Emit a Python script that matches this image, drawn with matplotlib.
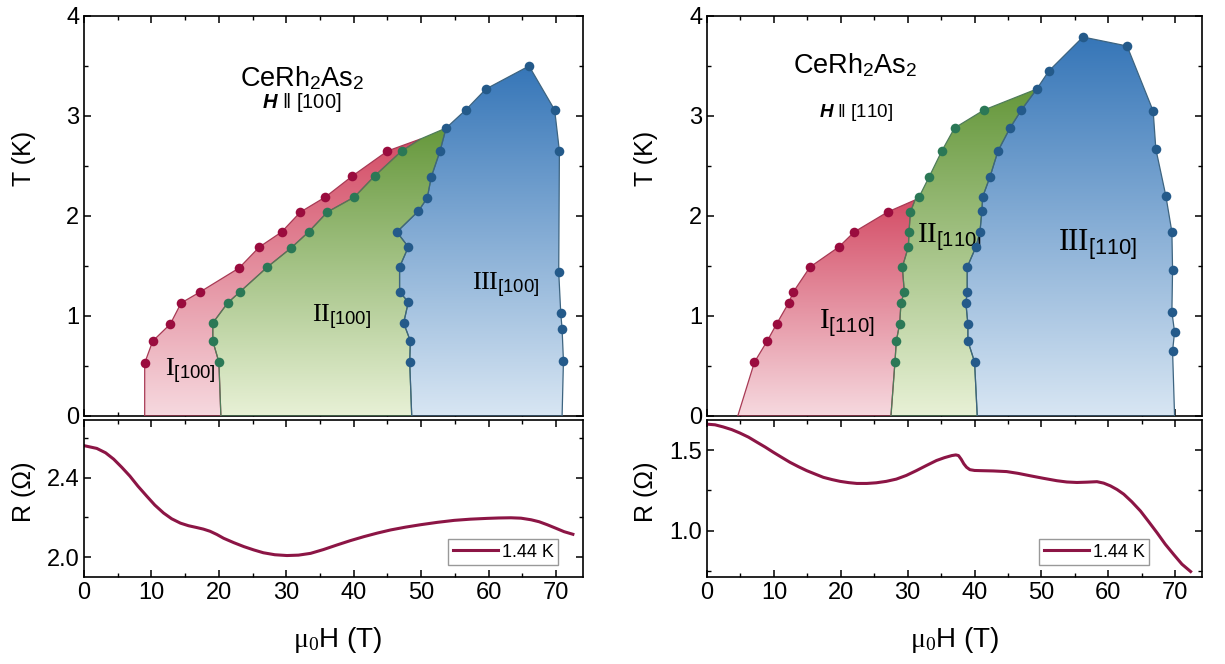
import numpy as np
import matplotlib
matplotlib.use("Agg")
import matplotlib.pyplot as plt
from matplotlib.patches import Polygon
from matplotlib.colors import LinearSegmentedColormap
from matplotlib.ticker import MultipleLocator, FormatStrFormatter

plt.rcParams['font.family'] = ['Liberation Sans', 'DejaVu Sans']
plt.rcParams['mathtext.fontset'] = 'custom'
plt.rcParams['mathtext.rm'] = 'Liberation Serif'
plt.rcParams['mathtext.sf'] = 'Liberation Sans'
plt.rcParams['mathtext.bf'] = 'Liberation Sans:italic:bold'
plt.rcParams['mathtext.it'] = 'Liberation Serif:italic'

# ---------------- Data: H || [100] ----------------
L_red_H = [9.0, 10.2, 12.8, 14.4, 17.2, 23.0, 26.0, 29.3, 32.1, 35.8, 39.8, 45.0]
L_red_T = [0.53, 0.75, 0.92, 1.13, 1.24, 1.48, 1.69, 1.84, 2.04, 2.19, 2.40, 2.65]
L_green_H = [20.0, 19.1, 19.1, 21.3, 23.1, 27.2, 30.7, 33.3, 36.1, 40.1, 43.1, 47.1]
L_green_T = [0.54, 0.75, 0.93, 1.13, 1.24, 1.49, 1.68, 1.84, 2.04, 2.19, 2.40, 2.65]
L_blueL_H = [53.7, 52.8, 51.5, 50.9, 49.6, 46.4, 48.1, 46.8, 46.8, 48.1, 47.4, 48.4, 48.3]
L_blueL_T = [2.88, 2.65, 2.39, 2.18, 2.05, 1.84, 1.69, 1.49, 1.24, 1.14, 0.93, 0.75, 0.54]
L_blueU_H = [56.6, 59.6, 66.0, 69.8, 70.5, 70.4, 70.7, 70.9, 71.1]
L_blueU_T = [3.06, 3.27, 3.50, 3.06, 2.65, 1.44, 1.03, 0.87, 0.55]
L_red_H0, L_green_H0, L_blue_H0, L_end_H0 = 9.0, 20.3, 48.6, 70.9
L_junction = (49.9, 2.77)

# ---------------- Data: H || [110] ----------------
R_red_H = [7.1, 9.0, 10.4, 12.2, 12.9, 15.4, 19.7, 22.0, 27.0]
R_red_T = [0.54, 0.75, 0.92, 1.13, 1.24, 1.49, 1.69, 1.84, 2.04]
R_greenL_H = [28.1, 28.3, 28.8, 29.0, 29.5, 29.2, 30.1, 30.2, 30.4]
R_greenL_T = [0.54, 0.75, 0.92, 1.13, 1.24, 1.49, 1.69, 1.84, 2.04]
R_greenU_H = [31.7, 33.2, 35.1, 37.0, 41.4]
R_greenU_T = [2.19, 2.39, 2.65, 2.88, 3.06]
R_blueL_H = [49.3, 47.0, 45.3, 43.5, 42.3, 41.2, 41.1, 40.8, 40.2, 38.9, 38.9, 38.7, 39.0, 39.0, 40.0]
R_blueL_T = [3.27, 3.06, 2.88, 2.65, 2.39, 2.19, 2.05, 1.84, 1.69, 1.49, 1.24, 1.13, 0.92, 0.75, 0.54]
R_blueU_H = [51.1, 56.2, 62.8, 66.7, 67.1, 68.6, 69.5, 69.6, 69.5, 69.9, 69.6]
R_blueU_T = [3.45, 3.79, 3.70, 3.05, 2.67, 2.20, 1.84, 1.46, 1.04, 0.84, 0.65]
R_red_H0, R_green_H0, R_blue_H0, R_end_H0 = 4.6, 27.5, 40.4, 69.9
R_junction = (31.1, 2.16)

# ---------------- Resistance at 1.44 K ----------------
L_RH = [0, 1.9, 3.2, 4.4, 5.6, 6.8, 8.0, 9.3, 10.5, 11.8, 13.0, 14.3, 15.5, 16.7, 17.7,
        18.7, 19.7, 20.7, 22.2, 23.7, 25.2, 26.6, 28.3, 30.1, 31.8, 33.6, 35.5, 37.5,
        39.5, 41.5, 43.5, 45.5, 47.7, 49.9, 52.4, 54.9, 57.3, 59.8, 61.5, 63.3, 64.8,
        66.3, 67.5, 68.7, 70.0, 71.2, 72.5]
L_R = [2.561, 2.547, 2.525, 2.493, 2.452, 2.408, 2.357, 2.307, 2.262, 2.222, 2.193, 2.171,
       2.158, 2.149, 2.141, 2.130, 2.114, 2.095, 2.073, 2.053, 2.036, 2.022, 2.012, 2.008,
       2.010, 2.019, 2.038, 2.061, 2.083, 2.103, 2.121, 2.137, 2.151, 2.163, 2.175, 2.185,
       2.191, 2.195, 2.197, 2.198, 2.196, 2.188, 2.178, 2.163, 2.145, 2.128, 2.115]
R_RH = [0, 1.2, 2.4, 3.7, 4.9, 6.2, 7.4, 8.7, 9.9, 11.2, 12.4, 13.7, 14.9, 16.2, 17.4,
        18.7, 19.9, 21.2, 22.4, 23.9, 25.3, 26.8, 28.3, 29.8, 31.3, 32.8, 34.3, 35.5,
        36.6, 37.2, 37.6, 38.0, 38.4, 38.8, 39.3, 40.0, 40.8, 42.8, 44.8, 46.5, 48.3,
        50.3, 52.3, 53.8, 55.3, 56.8, 58.3, 59.3, 60.3, 61.3, 62.3, 63.5, 64.8, 66.0,
        67.3, 68.5, 69.8, 71.0, 72.3]
R_R = [1.664, 1.660, 1.647, 1.630, 1.609, 1.583, 1.553, 1.521, 1.489, 1.456, 1.426, 1.398,
       1.374, 1.352, 1.332, 1.318, 1.307, 1.299, 1.294, 1.294, 1.298, 1.307, 1.321, 1.344,
       1.374, 1.406, 1.437, 1.455, 1.468, 1.472, 1.468, 1.445, 1.416, 1.395, 1.380, 1.375,
       1.374, 1.372, 1.368, 1.357, 1.342, 1.326, 1.311, 1.303, 1.300, 1.302, 1.305, 1.296,
       1.279, 1.256, 1.227, 1.180, 1.122, 1.057, 0.985, 0.915, 0.849, 0.790, 0.744]
legend_label = "1.44 K"

# ---------------- Styling ----------------
RED_MK, GREEN_MK, BLUE_MK = '#9a0c3e', '#2b7856', '#245a8a'
RED_EDGE, GREEN_EDGE, BLUE_EDGE = '#a83a55', '#4f7d5a', '#3d6480'
RED_GRAD = ['#f6d9df', '#d44d66']
GREEN_GRAD = ['#e8f1d6', '#66983c']
BLUE_GRAD = ['#d8e6f3', '#3676b8']
LINE_C = '#8c1545'


def region(ax, H, T, colors, edge):
    pts = np.column_stack([H, T])
    poly = Polygon(pts, closed=True, facecolor='none', edgecolor=edge, lw=0.9, zorder=3)
    ax.add_patch(poly)
    grad = np.linspace(0, 1, 256).reshape(-1, 1)
    cmap = LinearSegmentedColormap.from_list('g', colors)
    im = ax.imshow(grad, extent=(min(H), max(H), 0, max(T)), origin='lower',
                   aspect='auto', cmap=cmap, zorder=2, interpolation='bilinear')
    im.set_clip_path(poly)


def style(ax):
    ax.tick_params(which='both', direction='in', top=True, right=True, labelsize=17)
    ax.tick_params(which='major', length=5, width=1.1)
    ax.tick_params(which='minor', length=3, width=1.0)
    for s in ax.spines.values():
        s.set_linewidth(1.2)


fig = plt.figure(figsize=(12.25, 6.64), dpi=100)
W, Hh = 1225, 664

def axpos(x0, x1, y0, y1):
    return [x0 / W, 1 - y1 / Hh, (x1 - x0) / W, (y1 - y0) / Hh]

axLT = fig.add_axes(axpos(84, 583, 16, 416))
axLB = fig.add_axes(axpos(84, 583, 420, 577))
axRT = fig.add_axes(axpos(707, 1202, 16, 416))
axRB = fig.add_axes(axpos(707, 1202, 420, 577))

# ----- Left phase diagram -----
ax = axLT
I_H = [L_red_H0] + L_red_H + [L_junction[0]] + L_green_H[::-1] + [L_green_H0]
I_T = [0] + L_red_T + [L_junction[1]] + L_green_T[::-1] + [0]
region(ax, I_H, I_T, RED_GRAD, RED_EDGE)
II_H = [L_green_H0] + L_green_H + [L_junction[0]] + L_blueL_H + [L_blue_H0]
II_T = [0] + L_green_T + [L_junction[1]] + L_blueL_T + [0]
region(ax, II_H, II_T, GREEN_GRAD, GREEN_EDGE)
III_H = [L_blue_H0] + L_blueL_H[::-1] + L_blueU_H + [L_end_H0]
III_T = [0] + L_blueL_T[::-1] + L_blueU_T + [0]
region(ax, III_H, III_T, BLUE_GRAD, BLUE_EDGE)
ax.scatter(L_red_H, L_red_T, s=48, color=RED_MK, zorder=5, linewidths=0)
ax.scatter(L_green_H, L_green_T, s=48, color=GREEN_MK, zorder=5, linewidths=0)
ax.scatter(L_blueL_H + L_blueU_H, L_blueL_T + L_blueU_T, s=48, color=BLUE_MK, zorder=5, linewidths=0)
ax.text(32.3, 3.30, r"CeRh$_\mathsf{2}$As$_\mathsf{2}$", fontsize=19.5, ha='center', va='baseline')
ax.text(32.3, 3.08, "$\\mathbf{H}$ \u2016 [100]", fontsize=14.5, ha='center', va='baseline')
ax.text(12.0, 0.40, r"$\mathrm{I}_{\mathsf{[100]}}$", fontsize=19, ha='left', va='baseline')
ax.text(33.8, 0.94, r"$\mathrm{II}_{\mathsf{[100]}}$", fontsize=19, ha='left', va='baseline')
ax.text(57.5, 1.26, r"$\mathrm{III}_{\mathsf{[100]}}$", fontsize=19, ha='left', va='baseline')

# ----- Right phase diagram -----
ax = axRT
I_H = [R_red_H0] + R_red_H + [R_junction[0]] + R_greenL_H[::-1] + [R_green_H0]
I_T = [0] + R_red_T + [R_junction[1]] + R_greenL_T[::-1] + [0]
region(ax, I_H, I_T, RED_GRAD, RED_EDGE)
II_H = [R_green_H0] + R_greenL_H + [R_junction[0]] + R_greenU_H + R_blueL_H + [R_blue_H0]
II_T = [0] + R_greenL_T + [R_junction[1]] + R_greenU_T + R_blueL_T + [0]
region(ax, II_H, II_T, GREEN_GRAD, GREEN_EDGE)
III_H = [R_blue_H0] + R_blueL_H[::-1] + R_blueU_H + [R_end_H0]
III_T = [0] + R_blueL_T[::-1] + R_blueU_T + [0]
region(ax, III_H, III_T, BLUE_GRAD, BLUE_EDGE)
ax.scatter(R_red_H, R_red_T, s=48, color=RED_MK, zorder=5, linewidths=0)
ax.scatter(R_greenL_H + R_greenU_H, R_greenL_T + R_greenU_T, s=48, color=GREEN_MK, zorder=5, linewidths=0)
ax.scatter(R_blueL_H + R_blueU_H, R_blueL_T + R_blueU_T, s=48, color=BLUE_MK, zorder=5, linewidths=0)
ax.text(22.2, 3.43, r"CeRh$_\mathsf{2}$As$_\mathsf{2}$", fontsize=19.5, ha='center', va='baseline')
ax.text(22.3, 2.99, "$\\mathbf{H}$ \u2016 [110]", fontsize=13.5, ha='center', va='baseline')
ax.text(16.8, 0.88, r"$\mathrm{I}_{\mathsf{[110]}}$", fontsize=21, ha='left', va='baseline')
ax.text(31.4, 1.74, r"$\mathrm{II}_{\mathsf{[110]}}$", fontsize=21, ha='left', va='baseline')
ax.text(52.5, 1.66, r"$\mathrm{III}_{\mathsf{[110]}}$", fontsize=22.5, ha='left', va='baseline')

for ax in (axLT, axRT):
    ax.set_xlim(0, 74)
    ax.set_ylim(0, 4)
    ax.xaxis.set_major_locator(MultipleLocator(10))
    ax.xaxis.set_minor_locator(MultipleLocator(5))
    ax.yaxis.set_major_locator(MultipleLocator(1))
    ax.yaxis.set_minor_locator(MultipleLocator(0.5))
    ax.tick_params(labelbottom=False)
    style(ax)

# ----- Resistance panels -----
axLB.plot(L_RH, L_R, color=LINE_C, lw=2.2, label=legend_label, solid_joinstyle='round')
axLB.set_ylim(1.90, 2.69)
axLB.yaxis.set_major_locator(MultipleLocator(0.4))
axLB.yaxis.set_minor_locator(MultipleLocator(0.2))
axLB.yaxis.set_major_formatter(FormatStrFormatter('%.1f'))
axRB.plot(R_RH, R_R, color=LINE_C, lw=2.2, label=legend_label, solid_joinstyle='round')
axRB.set_ylim(0.71, 1.69)
axRB.yaxis.set_major_locator(MultipleLocator(0.5))
axRB.yaxis.set_minor_locator(MultipleLocator(0.25))
axRB.yaxis.set_major_formatter(FormatStrFormatter('%.1f'))

for ax, anchor in ((axLB, (0.95, 0.075)), (axRB, (0.893, 0.075))):
    ax.set_xlim(0, 74)
    ax.xaxis.set_major_locator(MultipleLocator(10))
    ax.xaxis.set_minor_locator(MultipleLocator(5))
    style(ax)
    leg = ax.legend(loc='lower right', bbox_to_anchor=anchor, fontsize=13, frameon=True,
                    fancybox=False, edgecolor='#999999', framealpha=1, borderpad=0.25,
                    handlelength=2.5, handletextpad=0.2, borderaxespad=0)
    leg.get_frame().set_linewidth(1.0)

# ----- Axis labels -----
for x in (24, 646):
    fig.text(x / W, 1 - 158 / Hh, "T (K)", rotation=90, fontsize=18, ha='center', va='center')
    fig.text(x / W, 1 - 492 / Hh, "R (\u03a9)", rotation=90, fontsize=18, ha='center', va='center')
for x in (338, 955):
    fig.text(x / W, 1 - 640 / Hh, r"$\mathrm{\mu}_{\mathrm{0}}$H (T)", fontsize=20, ha='center', va='center')

fig.savefig("out.png", dpi=100)
